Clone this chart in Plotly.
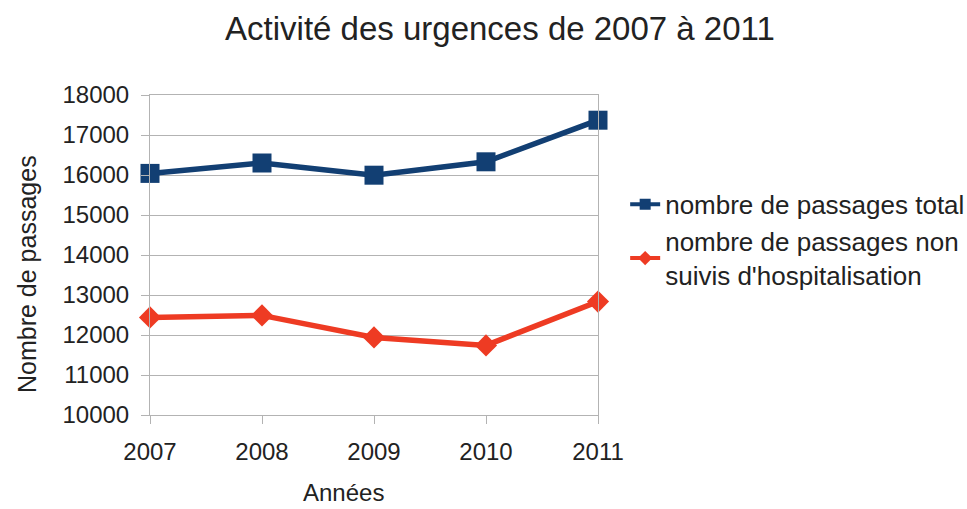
import plotly.graph_objects as go

years = [2007, 2008, 2009, 2010, 2011]
total = [16040, 16300, 15995, 16330, 17370]
non_hosp = [12440, 12490, 11940, 11740, 12835]
y_ticks = [10000, 11000, 12000, 13000, 14000, 15000, 16000, 17000, 18000]

BLUE = "#123f73"
RED = "#ee3b23"
TXT = "#222222"

fig = go.Figure()
fig.add_trace(go.Scatter(
    x=years, y=total, mode="lines+markers", showlegend=False, cliponaxis=False,
    line=dict(color=BLUE, width=5.5),
    marker=dict(symbol="square", size=19, color=BLUE),
))
fig.add_trace(go.Scatter(
    x=years, y=non_hosp, mode="lines+markers", showlegend=False, cliponaxis=False,
    line=dict(color=RED, width=5.5),
    marker=dict(symbol="diamond", size=17, color=RED),
))
# legend entries (smaller symbols like the reference)
fig.add_trace(go.Scatter(
    x=[None], y=[None], mode="lines+markers",
    name="nombre de passages total",
    line=dict(color=BLUE, width=4),
    marker=dict(symbol="square", size=11, color=BLUE),
))
fig.add_trace(go.Scatter(
    x=[None], y=[None], mode="lines+markers",
    name="nombre de passages non<br>suivis d'hospitalisation",
    line=dict(color=RED, width=4),
    marker=dict(symbol="diamond", size=11, color=RED),
))

font_family = "Liberation Sans, Arial, sans-serif"
fig.update_layout(
    width=967, height=509,
    margin=dict(l=150, r=369, t=95, b=94, autoexpand=False),
    paper_bgcolor="white", plot_bgcolor="white",
    font=dict(family=font_family, color=TXT),
    title=dict(text="Activité des urgences de 2007 à 2011", x=0.517, xanchor="center",
               y=0.945, yanchor="middle", font=dict(size=33, color=TXT)),
    showlegend=True,
    legend=dict(x=0.6465, y=0.6445, xref="container", yref="container",
                xanchor="left", yanchor="top",
                font=dict(size=26, color=TXT), tracegroupgap=0,
                itemwidth=30, bgcolor="rgba(0,0,0,0)"),
    xaxis=dict(
        range=[2007, 2011], tickmode="array", tickvals=years,
        ticktext=[str(y) for y in years],
        showgrid=False, showline=True, mirror=True, linecolor="#b3b3b3", linewidth=1,
        ticks="outside", ticklen=8, tickcolor="#b3b3b3",
        ticklabelstandoff=7,
        tickfont=dict(size=24, color=TXT),
        zeroline=False, automargin=False,
    ),
    yaxis=dict(
        range=[10000, 18000], tickmode="array", tickvals=y_ticks,
        ticktext=[str(v) for v in y_ticks],
        showgrid=True, gridcolor="#b3b3b3", gridwidth=1,
        showline=True, mirror=True, linecolor="#b3b3b3", linewidth=1,
        ticks="outside", ticklen=8, tickcolor="#b3b3b3",
        ticklabelstandoff=7,
        tickfont=dict(size=24, color=TXT),
        zeroline=False, automargin=False,
    ),
    annotations=[
        dict(text="Années", xref="paper", yref="paper",
             x=(343 - 150) / 448, y=-(508 - 415) / 320,
             xanchor="center", yanchor="bottom", showarrow=False,
             font=dict(size=24, color=TXT)),
        dict(text="Nombre de passages", xref="paper", yref="paper",
             x=-(150 - 27) / 448, y=(415 - 274) / 320, textangle=-90,
             xanchor="center", yanchor="middle", showarrow=False,
             font=dict(size=25, color=TXT)),
    ],
)

fig.write_html("out.html", config={"displayModeBar": False},
               post_script="document.body.style.margin='0';document.body.style.overflow='hidden';")
